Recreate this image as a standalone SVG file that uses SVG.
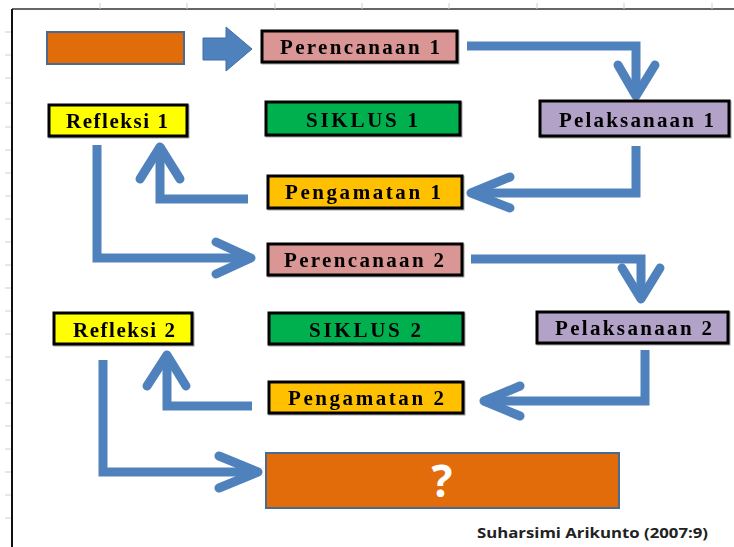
<svg xmlns="http://www.w3.org/2000/svg" width="734" height="547" viewBox="0 0 734 547">
<defs>
<style>
.box{stroke:#000;stroke-width:3}
.lbl{font-family:"Liberation Serif","Times New Roman",serif;font-weight:bold;font-size:21px;fill:#000;text-anchor:start}
.con path{fill:none;stroke:#4f81bd;stroke-width:9}
.con .head{stroke-linecap:round;stroke-linejoin:round}
.tick{stroke:#c8d0dc;stroke-width:1}
</style>
<filter id="sh" x="-10%" y="-20%" width="120%" height="150%">
<feDropShadow dx="1" dy="1" stdDeviation="0.6" flood-color="#000" flood-opacity="0.35"/>
</filter>
</defs>
<rect width="734" height="547" fill="#fff"/>
<g id="grid">
<line x1="12" y1="9" x2="734" y2="9" stroke="#333" stroke-width="1.5"/>
<line x1="12" y1="9" x2="12" y2="547" stroke="#111" stroke-width="2"/>
<g class="tick">
<line x1="100" y1="3" x2="100" y2="9"/><line x1="187" y1="3" x2="187" y2="9"/><line x1="275" y1="3" x2="275" y2="9"/><line x1="362" y1="3" x2="362" y2="9"/><line x1="449" y1="3" x2="449" y2="9"/><line x1="537" y1="3" x2="537" y2="9"/><line x1="624" y1="3" x2="624" y2="9"/><line x1="712" y1="3" x2="712" y2="9"/>
<line x1="5" y1="32" x2="11" y2="32"/><line x1="5" y1="55" x2="11" y2="55"/><line x1="5" y1="78" x2="11" y2="78"/><line x1="5" y1="103" x2="11" y2="103"/><line x1="5" y1="127" x2="11" y2="127"/><line x1="5" y1="150" x2="11" y2="150"/><line x1="5" y1="173" x2="11" y2="173"/><line x1="5" y1="196" x2="11" y2="196"/><line x1="5" y1="219" x2="11" y2="219"/><line x1="5" y1="242" x2="11" y2="242"/><line x1="5" y1="265" x2="11" y2="265"/><line x1="5" y1="288" x2="11" y2="288"/><line x1="5" y1="311" x2="11" y2="311"/><line x1="5" y1="334" x2="11" y2="334"/><line x1="5" y1="357" x2="11" y2="357"/><line x1="5" y1="380" x2="11" y2="380"/><line x1="5" y1="403" x2="11" y2="403"/><line x1="5" y1="426" x2="11" y2="426"/><line x1="5" y1="449" x2="11" y2="449"/><line x1="5" y1="472" x2="11" y2="472"/><line x1="5" y1="495" x2="11" y2="495"/><line x1="5" y1="518" x2="11" y2="518"/>
</g>
</g>
<g id="connectors" class="con">
<polygon points="203,38 226,38 226,27 252,49 226,71 226,60 203,60" fill="#4f81bd" stroke="#3f6fa6" stroke-width="1"/>
<path d="M467,46 H636 V95"/>
<path class="head" d="M618,65 L636,96 L655,65"/>
<path d="M636,146 V193 H474"/>
<path class="head" d="M510,177 L471,193 L510,208"/>
<path d="M248,199 H160 V150"/>
<path class="head" d="M140,179 L160,147 L180,179"/>
<path d="M97,145 V258 H248"/>
<path class="head" d="M216,242 L251,258 L216,274"/>
<path d="M471,259 H641 V296"/>
<path class="head" d="M622,268 L641,299 L660,268"/>
<path d="M645,350 V401 H487"/>
<path class="head" d="M520,386 L484,401 L520,416"/>
<path d="M252,406 H167 V358"/>
<path class="head" d="M147,386 L167,355 L186,386"/>
<path d="M103,360 V472 H255"/>
<path class="head" d="M219,456 L258,472 L219,488"/>
</g>
<g id="start">
<rect x="47" y="32" width="137" height="32" fill="#e36c0a" stroke="#4a6a90" stroke-width="2"/>
</g>
<g id="perencanaan1" filter="url(#sh)">
<rect class="box" x="262" y="31" width="195" height="31" fill="#da9694"/>
<text class="lbl" x="280" y="54" textLength="160" lengthAdjust="spacing">Perencanaan 1</text>
</g>
<g id="refleksi1" filter="url(#sh)">
<rect class="box" x="49" y="105" width="138" height="31" fill="#ffff00"/>
<text class="lbl" x="66" y="128" textLength="102" lengthAdjust="spacing">Refleksi 1</text>
</g>
<g id="siklus1" filter="url(#sh)">
<rect class="box" x="266" y="102" width="194" height="33" fill="#00b050"/>
<text class="lbl" x="306" y="127" textLength="112" lengthAdjust="spacing">SIKLUS 1</text>
</g>
<g id="pelaksanaan1" filter="url(#sh)">
<rect class="box" x="540" y="101" width="189" height="35" fill="#b3a2c7"/>
<text class="lbl" x="559" y="127" textLength="155" lengthAdjust="spacing">Pelaksanaan 1</text>
</g>
<g id="pengamatan1" filter="url(#sh)">
<rect class="box" x="268" y="176" width="194" height="32" fill="#ffc000"/>
<text class="lbl" x="285" y="199" textLength="156" lengthAdjust="spacing">Pengamatan 1</text>
</g>
<g id="perencanaan2" filter="url(#sh)">
<rect class="box" x="268" y="244" width="194" height="31" fill="#da9694"/>
<text class="lbl" x="284" y="267" textLength="160" lengthAdjust="spacing">Perencanaan 2</text>
</g>
<g id="refleksi2" filter="url(#sh)">
<rect class="box" x="54" y="313" width="138" height="31" fill="#ffff00"/>
<text class="lbl" x="73" y="337" textLength="102" lengthAdjust="spacing">Refleksi 2</text>
</g>
<g id="siklus2" filter="url(#sh)">
<rect class="box" x="269" y="313" width="194" height="31" fill="#00b050"/>
<text class="lbl" x="309" y="337" textLength="112" lengthAdjust="spacing">SIKLUS 2</text>
</g>
<g id="pelaksanaan2" filter="url(#sh)">
<rect class="box" x="537" y="312" width="191" height="31" fill="#b3a2c7"/>
<text class="lbl" x="555" y="335" textLength="157" lengthAdjust="spacing">Pelaksanaan 2</text>
</g>
<g id="pengamatan2" filter="url(#sh)">
<rect class="box" x="269" y="382" width="194" height="31" fill="#ffc000"/>
<text class="lbl" x="288" y="405" textLength="156" lengthAdjust="spacing">Pengamatan 2</text>
</g>
<g id="result">
<rect x="266" y="453" width="353" height="55" fill="#e36c0a" stroke="#4a6a90" stroke-width="2"/>
<text x="442" y="497" font-family="'Open Sans','Liberation Sans',sans-serif" font-weight="bold" font-size="44" fill="#fff" text-anchor="middle">?</text>
</g>
<text id="caption" x="477" y="538" font-family="'Open Sans','Liberation Sans',sans-serif" font-weight="bold" font-size="14" fill="#222" textLength="231" lengthAdjust="spacingAndGlyphs">Suharsimi Arikunto (2007:9)</text>
</svg>
